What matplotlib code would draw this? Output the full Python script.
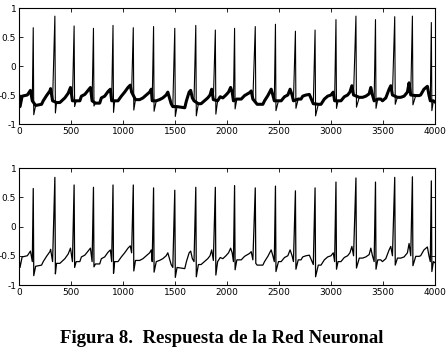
import matplotlib
matplotlib.use("Agg")
import matplotlib.pyplot as plt
import numpy as np

# R-peak positions (samples) and heights
spike_x = [137, 345, 530, 716, 904, 1099, 1294, 1498, 1700, 1888, 2073,
           2272, 2466, 2658, 2847, 3048, 3240, 3428, 3613, 3783, 3965]
spike_top_in = [0.66, 0.86, 0.69, 0.65, 0.70, 0.66, 0.68, 0.65, 0.70, 0.62, 0.65,
                0.68, 0.72, 0.60, 0.62, 0.80, 0.86, 0.80, 0.85, 0.86, 0.75]
spike_top_out = [0.65, 0.84, 0.71, 0.67, 0.71, 0.71, 0.66, 0.62, 0.67, 0.67, 0.70,
                 0.66, 0.69, 0.61, 0.66, 0.76, 0.83, 0.76, 0.84, 0.85, 0.78]
spike_low = [-0.84, -0.81, -0.70, -0.69, -0.80, -0.76, -0.78, -0.87, -0.86, -0.83, -0.74,
             -0.63, -0.77, -0.73, -0.86, -0.73, -0.71, -0.73, -0.66, -0.67, -0.77]
spike_low_x = [142, 350, 535, 721, 909, 1104, 1299, 1503, 1705, 1893, 2078,
               2277, 2471, 2663, 2852, 3053, 3245, 3433, 3618, 3788, 3970]

# slow part of the signal between the spikes
base_x = [0, 10, 30, 80, 110, 128,
          160, 217, 233, 265, 297, 304, 323,
          361, 393, 441, 473, 495, 514,
          550, 585, 600, 633, 674, 687, 703,
          735, 776, 792, 824, 856, 879, 891,
          920, 952, 984, 1016, 1048, 1070, 1083,
          1120, 1160, 1192, 1224, 1256, 1272, 1281,
          1320, 1351, 1383, 1415, 1431, 1447, 1463, 1479,
          1520, 1594, 1610, 1636, 1651, 1667, 1683,
          1725, 1751, 1783, 1815, 1837, 1853, 1869,
          1910, 1935, 1960, 1990, 2015, 2035, 2050, 2062,
          2095, 2137, 2169, 2217, 2233, 2249,
          2290, 2345, 2361, 2393, 2425, 2441, 2455,
          2495, 2521, 2553, 2585, 2607, 2626, 2639,
          2685, 2712, 2728, 2760, 2792, 2818, 2830,
          2878, 2904, 2936, 2968, 3000, 3022, 3035,
          3068, 3096, 3128, 3160, 3182, 3201, 3217,
          3272, 3304, 3335, 3367, 3383, 3399, 3415,
          3450, 3479, 3495, 3527, 3559, 3575, 3591,
          3639, 3671, 3703, 3735, 3751, 3767,
          3815, 3847, 3862, 3894, 3927, 3942, 3955,
          3985, 4000]
base_y = [-0.52, -0.70, -0.52, -0.50, -0.42, -0.60,
          -0.68, -0.66, -0.60, -0.51, -0.43, -0.39, -0.60,
          -0.63, -0.63, -0.55, -0.47, -0.37, -0.60,
          -0.60, -0.60, -0.52, -0.49, -0.40, -0.37, -0.60,
          -0.64, -0.64, -0.55, -0.52, -0.44, -0.40, -0.60,
          -0.60, -0.60, -0.52, -0.45, -0.37, -0.33, -0.45,
          -0.58, -0.58, -0.55, -0.50, -0.45, -0.40, -0.60,
          -0.60, -0.58, -0.55, -0.50, -0.45, -0.55, -0.65, -0.70,
          -0.70, -0.72, -0.60, -0.45, -0.42, -0.55, -0.60,
          -0.65, -0.65, -0.60, -0.55, -0.50, -0.40, -0.58,
          -0.60, -0.53, -0.55, -0.50, -0.45, -0.37, -0.45, -0.60,
          -0.57, -0.57, -0.51, -0.46, -0.43, -0.57,
          -0.66, -0.66, -0.60, -0.51, -0.40, -0.50, -0.60,
          -0.60, -0.60, -0.53, -0.50, -0.40, -0.50, -0.60,
          -0.57, -0.57, -0.52, -0.50, -0.49, -0.60, -0.65,
          -0.66, -0.66, -0.57, -0.52, -0.50, -0.45, -0.60,
          -0.60, -0.60, -0.53, -0.50, -0.45, -0.34, -0.50,
          -0.54, -0.54, -0.52, -0.48, -0.37, -0.50, -0.60,
          -0.57, -0.57, -0.60, -0.55, -0.40, -0.34, -0.50,
          -0.54, -0.54, -0.52, -0.45, -0.29, -0.50,
          -0.51, -0.51, -0.50, -0.40, -0.35, -0.50, -0.60,
          -0.60, -0.62]


def build_signal(tops):
    xs = list(base_x) + list(spike_x) + list(spike_low_x)
    ys = list(base_y) + list(tops) + list(spike_low)
    order = np.argsort(xs, kind="stable")
    return np.array(xs)[order], np.array(ys)[order]


def style_axes(ax):
    ax.set_xlim(0, 4000)
    ax.set_ylim(-1, 1)
    ax.set_xticks(np.arange(0, 4001, 500))
    ax.set_yticks([-1, -0.5, 0, 0.5, 1])
    ax.set_yticklabels(["-1", "-0.5", "0", "0.5", "1"])
    ax.tick_params(direction="in", top=True, right=True, length=3,
                   width=0.6, labelsize=6.5, pad=2)
    for s in ax.spines.values():
        s.set_linewidth(0.8)


fig = plt.figure(figsize=(4.47, 3.54), dpi=100)
ax1 = fig.add_axes([0.0425, 0.6497, 0.9306, 0.3277])
ax2 = fig.add_axes([0.0425, 0.1949, 0.9306, 0.3305])

# noisy input: thin spikes plus a thicker band for the noisy baseline
x_in, y_in = build_signal(spike_top_in)
ax1.plot(x_in, y_in, color="black", lw=0.8)
ax1.plot(base_x, base_y, color="black", lw=2.2)
style_axes(ax1)

x_out, y_out = build_signal(spike_top_out)
ax2.plot(x_out, y_out, color="black", lw=0.9)
style_axes(ax2)

fig.text(0.497, 0.045, "Figura 8.  Respuesta de la Red Neuronal",
         ha="center", va="center", fontsize=13.5, fontweight="bold",
         family="Liberation Serif")

fig.savefig("out.png", dpi=100)
